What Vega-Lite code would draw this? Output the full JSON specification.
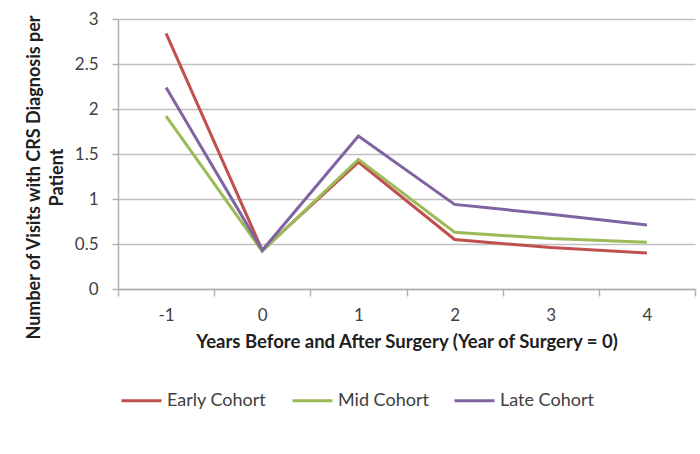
{
  "$schema": "https://vega.github.io/schema/vega-lite/v6.json",
  "width": 577,
  "height": 270,
  "autosize": "none",
  "padding": {"left": 118, "top": 19, "right": 5, "bottom": 165},
  "background": "white",
  "config": {
    "view": {"stroke": null},
    "font": "Lato",
    "axis": {"labelFont": "Lato", "titleFont": "Lato", "labelColor": "#404040", "titleColor": "#202020"}
  },
  "data": {
    "values": [
      {"year": -1, "cohort": "Early Cohort", "visits": 2.84},
      {"year": 0, "cohort": "Early Cohort", "visits": 0.43},
      {"year": 1, "cohort": "Early Cohort", "visits": 1.41},
      {"year": 2, "cohort": "Early Cohort", "visits": 0.55},
      {"year": 3, "cohort": "Early Cohort", "visits": 0.46},
      {"year": 4, "cohort": "Early Cohort", "visits": 0.40},
      {"year": -1, "cohort": "Mid Cohort", "visits": 1.92},
      {"year": 0, "cohort": "Mid Cohort", "visits": 0.42},
      {"year": 1, "cohort": "Mid Cohort", "visits": 1.44},
      {"year": 2, "cohort": "Mid Cohort", "visits": 0.63},
      {"year": 3, "cohort": "Mid Cohort", "visits": 0.56},
      {"year": 4, "cohort": "Mid Cohort", "visits": 0.52},
      {"year": -1, "cohort": "Late Cohort", "visits": 2.24},
      {"year": 0, "cohort": "Late Cohort", "visits": 0.43},
      {"year": 1, "cohort": "Late Cohort", "visits": 1.70},
      {"year": 2, "cohort": "Late Cohort", "visits": 0.94},
      {"year": 3, "cohort": "Late Cohort", "visits": 0.83},
      {"year": 4, "cohort": "Late Cohort", "visits": 0.71}
    ]
  },
  "mark": {"type": "line", "strokeWidth": 3},
  "encoding": {
    "x": {
      "field": "year",
      "type": "ordinal",
      "sort": [-1, 0, 1, 2, 3, 4],
      "scale": {"type": "band", "paddingInner": 0, "paddingOuter": 0},
      "axis": {
        "title": "Years Before and After Surgery (Year of Surgery = 0)",
        "titleFontSize": 18.5,
        "titleFontWeight": "bold",
        "titlePadding": 9,
        "labelAngle": 0,
        "labelFontSize": 17,
        "labelPadding": 11,
        "tickBand": "extent",
        "tickSize": 7,
        "tickColor": "#b0b0b0",
        "domainColor": "#b0b0b0",
        "domainWidth": 1.5,
        "tickWidth": 1.5,
        "grid": false
      }
    },
    "y": {
      "field": "visits",
      "type": "quantitative",
      "scale": {"domain": [0, 3]},
      "axis": {
        "title": ["Number of Visits with CRS Diagnosis per", "Patient"],
        "titleFontSize": 18,
        "titleFontWeight": "bold",
        "titleLineHeight": 23,
        "titlePadding": 8,
        "titleY": 158,
        "values": [0, 0.5, 1, 1.5, 2, 2.5, 3],
        "format": ".1~f",
        "labelFontSize": 17,
        "labelPadding": 14,
        "tickSize": 6,
        "tickColor": "#b0b0b0",
        "domainColor": "#b0b0b0",
        "domainWidth": 1.5,
        "tickWidth": 1.5,
        "gridColor": "#bfbfbf",
        "gridWidth": 1.5
      }
    },
    "color": {
      "field": "cohort",
      "type": "nominal",
      "sort": ["Early Cohort", "Mid Cohort", "Late Cohort"],
      "scale": {"domain": ["Early Cohort", "Mid Cohort", "Late Cohort"], "range": ["#c0504d", "#9bbb59", "#8064a2"]},
      "legend": {
        "title": null,
        "orient": "none",
        "direction": "horizontal",
        "legendX": 2,
        "legendY": 360,
        "symbolType": "stroke",
        "symbolSize": 1600,
        "symbolStrokeWidth": 3,
        "labelFontSize": 18,
        "labelColor": "#404040",
        "labelFont": "Lato",
        "columnPadding": 19,
        "labelOffset": 4
      }
    }
  }
}
